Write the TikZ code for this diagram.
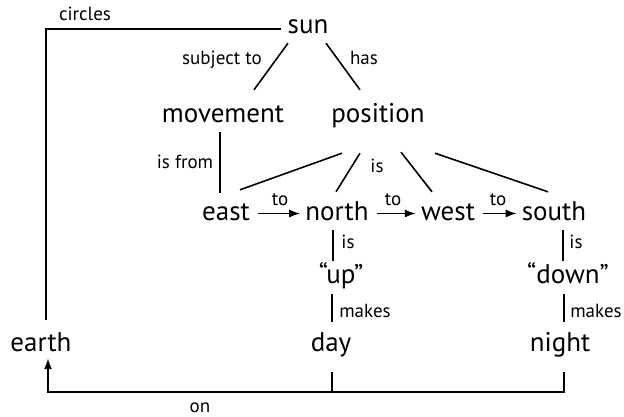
\documentclass[tikz,border=0pt]{standalone}
\usepackage{fontspec}
\setmainfont{PT Sans}
\usepackage{tikz}
\usetikzlibrary{arrows.meta, positioning}

\tikzset{
  concept/.style={font=\fontsize{27}{30}\selectfont, text height=18pt, text depth=5pt, inner sep=3pt, anchor=base},
  rel/.style={font=\fontsize{19}{22}\selectfont, inner sep=1pt, anchor=base},
  link/.style={line width=1.6pt},
  flow/.style={line width=1.6pt, -{Latex[length=11pt,width=8pt]}, shorten <=5pt, shorten >=2pt}
}

\begin{document}
\begin{tikzpicture}[x=1pt, y=-1pt]
    \useasboundingbox (0,0) rectangle (624,416);
    % concepts
    \node[concept] (sun) at (308,33) {sun};
    \node[concept] (movement) at (223,122) {movement};
    \node[concept] (position) at (378,122) {position};
    \node[concept] (east) at (226,220) {east};
    \node[concept] (north) at (337,220) {north};
    \node[concept] (west) at (448,220) {west};
    \node[concept] (south) at (554,220) {south};
    \node[concept] (up) at (341,283) {``up''};
    \node[concept] (down) at (568,283) {``down''};
    \node[concept] (earth) at (41,351) {earth};
    \node[concept] (day) at (331,351) {day};
    \node[concept] (night) at (560,351) {night};
    \coordinate (onbar) at (0,392);
    % relations
    \node[rel] (circles) at (85,20) {circles};
    \node[rel] (subjto) at (222,64) {subject to};
    \node[rel] (has) at (364,64) {has};
    \node[rel] (isfrom) at (185,168) {is from};
    \node[rel] (ispos) at (377,172) {is};
    \node[rel] (to1) at (280,205) {to};
    \node[rel] (to2) at (393,205) {to};
    \node[rel] (to3) at (498,205) {to};
    \node[rel] (isup) at (348,248) {is};
    \node[rel] (isdown) at (576,248) {is};
    \node[rel] (makesday) at (365,317) {makes};
    \node[rel] (makesnight) at (596,317) {makes};
    \node[rel] (on) at (200,412) {on};
    % links
    \draw[link] ([shift={(-20,2)}]sun.south) -- ([shift={(31,-11)}]movement.north);
    \draw[link] ([shift={(18,2)}]sun.south) -- ([shift={(-18,-11)}]position.north);
    \draw[link] ([shift={(-3,2)}]movement.south) -- ([shift={(-6,-6)}]east.north);
    \draw[link] ([shift={(-36,23)}]position.south) -- ([shift={(14,-9)}]east.north);
    \draw[link] ([shift={(-18,23)}]position.south) -- ([shift={(-1,-7)}]north.north);
    \draw[link] ([shift={(23,22)}]position.south) -- ([shift={(-16,-7)}]west.north);
    \draw[link] ([shift={(57,23)}]position.south) -- ([shift={(-6,-7)}]south.north);
    \draw[flow] (east) -- (north);
    \draw[flow] (north) -- (west);
    \draw[flow] (west) -- (south);
    \draw[link] ([shift={(-4,2)}]north.south) -- ([shift={(-8,-1)}]up.north);
    \draw[link] ([shift={(-9,3)}]up.south) -- ([shift={(1,-8)}]day.north);
    \draw[link] ([shift={(9,2)}]south.south) -- ([shift={(-5,-1)}]down.north);
    \draw[link] ([shift={(-4,3)}]down.south) -- ([shift={(4,-8)}]night.north);
    \draw[link] ([shift={(-3,2.5)}]sun.west) -| ([shift={(5,-10)}]earth.north);
    \draw[link, -{Latex[length=11pt,width=8pt]}] ([shift={(4,13)}]night.south) |- ([xshift=7pt]earth.south |- onbar) -- ([shift={(7,-1)}]earth.south);
    \draw[link] ([shift={(1,13)}]day.south) -- ([xshift=1pt]day.south |- onbar);
\end{tikzpicture}
\end{document}
